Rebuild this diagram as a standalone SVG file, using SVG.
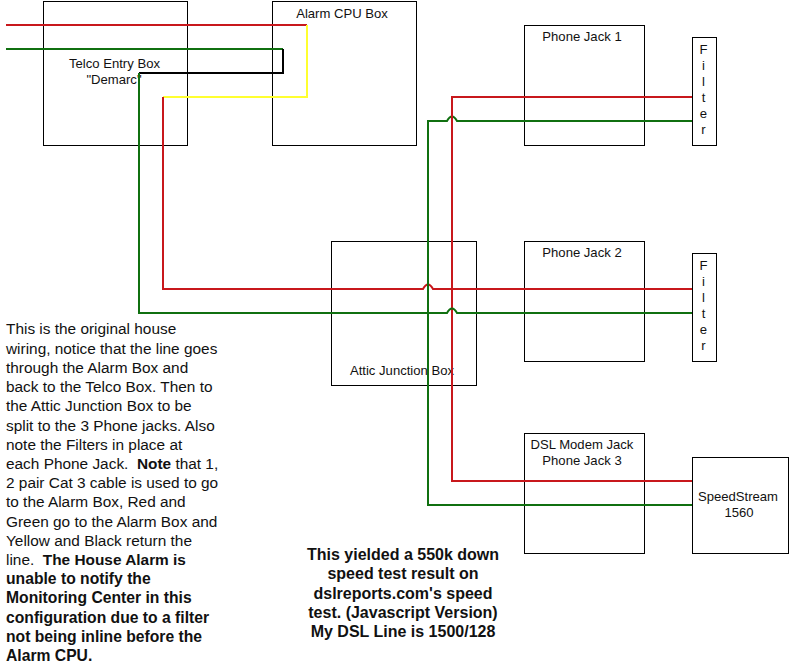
<svg xmlns="http://www.w3.org/2000/svg" width="790" height="666" viewBox="0 0 790 666">
<style>
text{font-family:"Liberation Sans",Arial,sans-serif;fill:#111}
.l{font-size:13.1px;text-anchor:middle}
.p{font-size:15.4px}
.pb{font-size:15.7px;font-weight:bold}
.c{text-anchor:middle;font-size:16px}
rect{fill:none;stroke:#000;stroke-width:1}
.w{fill:none;stroke-width:2;stroke-linejoin:miter}
.r{stroke:#c8181c}.g{stroke:#107010}.y{stroke:#ffff30}.k{stroke:#000}
</style>
<rect width="790" height="666" style="fill:#fff;stroke:none"/>
<g id="telco"><rect x="43.5" y="1.5" width="144" height="144"/><text class="l" x="114.500" y="68">Telco Entry Box</text><text class="l" x="114" y="84">"Demarc"</text></g>
<g id="alarm"><rect x="272.5" y="1.5" width="144" height="144"/><text class="l" x="342" y="18">Alarm CPU Box</text></g>
<g id="attic"><rect x="331.5" y="241.5" width="145" height="144"/><text class="l" x="402" y="375">Attic Junction Box</text></g>
<g id="jack1"><rect x="524.5" y="25.5" width="120" height="120"/><text class="l" x="582" y="41">Phone Jack 1</text></g>
<g id="jack2"><rect x="524.5" y="241.5" width="120" height="120"/><text class="l" x="582" y="257">Phone Jack 2</text></g>
<g id="jack3"><rect x="524.5" y="433.5" width="120" height="120"/><text class="l" x="582" y="449">DSL Modem Jack</text><text class="l" x="582" y="465">Phone Jack 3</text></g>
<g id="filter1"><rect x="692.5" y="37.5" width="24" height="108"/><text class="l" x="703.500" y="54">F</text><text class="l" x="703.500" y="70">i</text><text class="l" x="703.500" y="86">l</text><text class="l" x="703.500" y="102">t</text><text class="l" x="703.500" y="118">e</text><text class="l" x="703.500" y="134">r</text></g>
<g id="filter2"><rect x="692.5" y="253.5" width="24" height="108"/><text class="l" x="703.500" y="270">F</text><text class="l" x="703.500" y="286">i</text><text class="l" x="703.500" y="302">l</text><text class="l" x="703.500" y="318">t</text><text class="l" x="703.500" y="334">e</text><text class="l" x="703.500" y="350">r</text></g>
<g id="speedstream"><rect x="692.5" y="457.5" width="96" height="96"/><text class="l" x="738" y="501">SpeedStream</text><text class="l" x="739" y="517">1560</text></g>
<g id="connectors">
<path class="w r" d="M6 25H307"/>
<path class="w y" d="M307 25V97H163"/>
<path class="w g" d="M6 49H283"/>
<path class="w k" d="M283 49V73H139"/>
<path class="w r" d="M163 97V289H423Q428 280 433 289H692"/>
<path class="w g" d="M692 121H457Q452 112 447 121H428V505H692"/>
<path class="w r" d="M692 97H452V481H692"/>
<path class="w g" d="M139 73V313H447Q452 304 457 313H692"/>
</g>
<g id="notes">
<text class="p" x="6" y="334">This is the original house</text>
<text class="p" x="6" y="354">wiring, notice that the line goes</text>
<text class="p" x="6" y="373">through the Alarm Box and</text>
<text class="p" x="6" y="392">back to the Telco Box. Then to</text>
<text class="p" x="6" y="411">the Attic Junction Box to be</text>
<text class="p" x="6" y="431">split to the 3 Phone jacks. Also</text>
<text class="p" x="6" y="450">note the Filters in place at</text>
<text class="p" x="6" y="469" xml:space="preserve">each Phone Jack.  <tspan font-weight="bold">Note</tspan> that 1,</text>
<text class="p" x="6" y="488">2 pair Cat 3 cable is used to go</text>
<text class="p" x="6" y="507">to the Alarm Box, Red and</text>
<text class="p" x="6" y="527">Green go to the Alarm Box and</text>
<text class="p" x="6" y="546">Yellow and Black return the</text>
<text class="p" x="6" y="565" xml:space="preserve">line.  <tspan font-weight="bold">The House Alarm is</tspan></text>
<text class="pb" x="6" y="584">unable to notify the</text>
<text class="pb" x="6" y="603">Monitoring Center in this</text>
<text class="pb" x="6" y="623">configuration due to a filter</text>
<text class="pb" x="6" y="642">not being inline before the</text>
<text class="pb" x="6" y="661">Alarm CPU.</text>
<text class="pb c" x="403" y="560">This yielded a 550k down</text>
<text class="pb c" x="403" y="579">speed test result on</text>
<text class="pb c" x="403" y="599">dslreports.com's speed</text>
<text class="pb c" x="403" y="618">test. (Javascript Version)</text>
<text class="pb c" x="403" y="637">My DSL Line is 1500/128</text>
</g>
</svg>
